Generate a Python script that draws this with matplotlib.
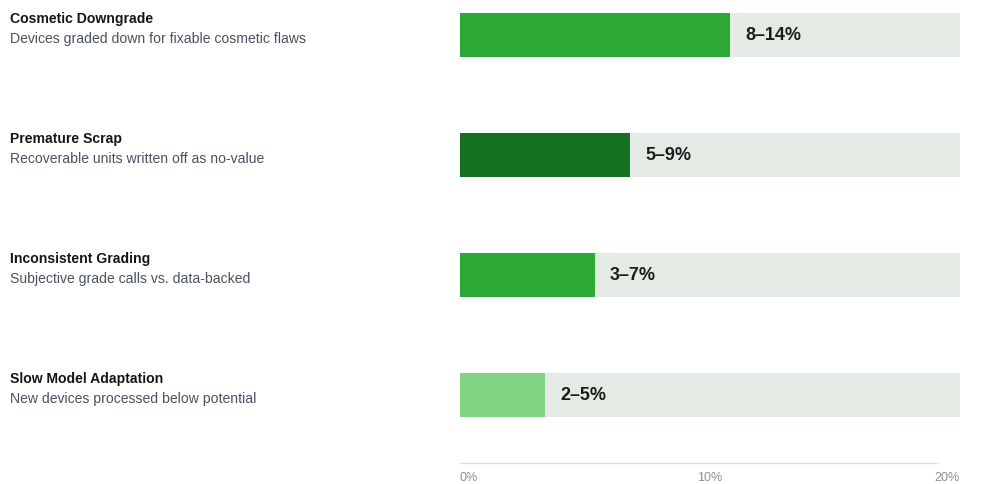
import matplotlib.pyplot as plt

plt.rcParams['font.family'] = ['Liberation Sans', 'DejaVu Sans']

# data
titles = ['Cosmetic Downgrade', 'Premature Scrap', 'Inconsistent Grading', 'Slow Model Adaptation']
subtitles = ['Devices graded down for fixable cosmetic flaws',
             'Recoverable units written off as no-value',
             'Subjective grade calls vs. data-backed',
             'New devices processed below potential']
values = [10.8, 6.8, 5.4, 3.4]
range_labels = ['8–14%', '5–9%', '3–7%', '2–5%']
colors = ['#2ba934', '#167022', '#2ba934', '#80d482']
xmax = 20
ticks = [0, 10, 20]
tick_labels = ['0%', '10%', '20%']

W, H = 985, 485
fig = plt.figure(figsize=(W / 100, H / 100), dpi=100)

# bar area: x 460..960 px, rows every 120 px starting at 36 px
ax = fig.add_axes([460 / W, (H - 481) / H, 500 / W, 480 / H])
ax.set_xlim(0, xmax)
ax.set_ylim(480 / 120 - 35 / 120, -35 / 120)
ax.axis('off')

ys = range(len(values))
ax.barh(ys, [xmax] * len(values), height=44 / 120, color='#e4ebe4', left=0)
ax.barh(ys, values, height=44 / 120, color=colors)

for y, v, lab in zip(ys, values, range_labels):
    ax.text(v + 0.6, y, lab, ha='left', va='center', fontsize=13,
            fontweight='bold', color='#1c1c1c')

# left text labels
for i, (t, s) in enumerate(zip(titles, subtitles)):
    top = 19 + 120 * i
    fig.text(10 / W, 1 - top / H, t, ha='left', va='center', fontsize=10.1,
             fontweight='bold', color='#161616')
    fig.text(10 / W, 1 - (top + 20) / H, s, ha='left', va='center', fontsize=10.1,
             color='#4a5262')

# axis line and tick labels
axis_y = (463 - 35) / 120
ax.plot([0, 478 / 25], [axis_y, axis_y], color='#dcdfe3', lw=1, clip_on=False)
label_y = (477 - 35) / 120
for t, lab, ha in zip(ticks, tick_labels, ['left', 'center', 'right']):
    ax.text(t, label_y, lab, ha=ha, va='center', fontsize=9, color='#8a8f98',
            clip_on=False)

fig.savefig('out.png', dpi=100, facecolor='white')
